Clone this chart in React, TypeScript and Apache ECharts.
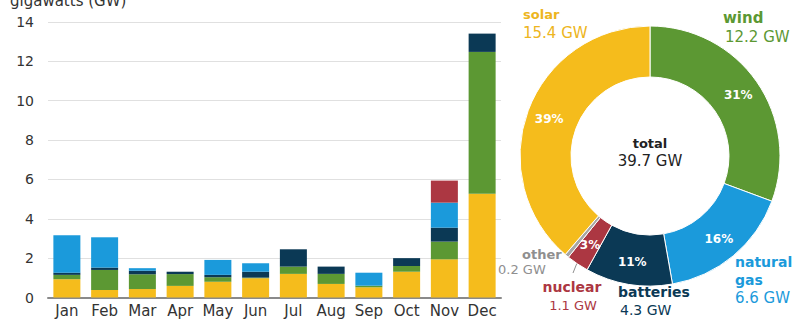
import React, { useEffect, useRef } from "react";
import * as echarts from "echarts";

const months = ["Jan", "Feb", "Mar", "Apr", "May", "Jun", "Jul", "Aug", "Sep", "Oct", "Nov", "Dec"];
const solar = [0.93, 0.38, 0.43, 0.59, 0.8, 0.98, 1.2, 0.69, 0.52, 1.31, 1.94, 5.27];
const wind = [0.22, 1.02, 0.75, 0.6, 0.23, 0.03, 0.37, 0.51, 0.08, 0.29, 0.9, 7.21];
const batteries = [0.11, 0.12, 0.18, 0.12, 0.12, 0.3, 0.88, 0.37, 0, 0.4, 0.71, 0.93];
const naturalGas = [1.9, 1.54, 0.13, 0, 0.76, 0.43, 0, 0, 0.66, 0, 1.27, 0];
const nuclear = [0, 0, 0, 0, 0, 0, 0, 0, 0, 0, 1.12, 0];

const capacityNames = ["wind", "natural gas", "batteries", "nuclear", "other", "solar"];
const capacityValues = [12.2, 6.6, 4.3, 1.1, 0.2, 15.4];
const capacityPercents = ["31%", "16%", "11%", "3%", "", "39%"];
const totalLabel = "39.7 GW";
const yAxisTitle = "gigawatts (GW)";

const C = {
  solar: "#F5BC1C",
  wind: "#5C9833",
  gas: "#1B9ADB",
  batteries: "#0B3955",
  nuclear: "#AC3742",
  other: "#A6A6A6",
};
const sliceColors = [C.wind, C.gas, C.batteries, C.nuclear, C.other, C.solar];
const FONT = "DejaVu Sans";

function txt(text: string, x: number, y: number, fill: string, size: number, bold = false, align = "left") {
  return {
    type: "text",
    x,
    y,
    silent: true,
    style: {
      text,
      fill,
      fontSize: size,
      fontWeight: bold ? "bold" : "normal",
      fontFamily: FONT,
      align,
      verticalAlign: "middle",
      textAlign: align,
      textVerticalAlign: "middle",
    },
  };
}

export default function App() {
  const ref = useRef<HTMLDivElement>(null);
  useEffect(() => {
    if (!ref.current) return;
    const chart = echarts.init(ref.current, null, { renderer: "svg" });
    const bar = (name: string, data: number[], color: string) => ({
      type: "bar",
      name,
      stack: "total",
      data,
      barWidth: 27,
      itemStyle: { color },
      xAxisIndex: 0,
      yAxisIndex: 0,
    });
    chart.setOption({
      animation: false,
      textStyle: { fontFamily: FONT },
      grid: { left: 48, right: 295, top: 22, bottom: 27.5, containLabel: false },
      xAxis: {
        type: "category",
        data: months,
        axisLine: { lineStyle: { color: "#8a8a8a", width: 2 } },
        axisTick: { show: false },
        axisLabel: { color: "#333", fontSize: 15, fontFamily: FONT, margin: 6, interval: 0 },
      },
      yAxis: {
        type: "value",
        min: 0,
        max: 14,
        interval: 2,
        axisLine: { show: false },
        axisTick: { show: false },
        axisLabel: { color: "#333", fontSize: 14, fontFamily: FONT, margin: 14 },
        splitLine: { lineStyle: { color: "#e0e0e0", width: 1 } },
      },
      series: [
        bar("solar", solar, C.solar),
        bar("wind", wind, C.wind),
        bar("batteries", batteries, C.batteries),
        bar("natural gas", naturalGas, C.gas),
        bar("nuclear", nuclear, C.nuclear),
        {
          type: "pie",
          center: [650, 156],
          radius: [79, 130],
          startAngle: 90,
          clockwise: true,
          avoidLabelOverlap: false,
          itemStyle: { borderColor: "#fff", borderWidth: 1 },
          label: {
            show: true,
            position: "inside",
            color: "#fff",
            fontSize: 12,
            fontWeight: "bold",
            fontFamily: FONT,
            formatter: (p: any) => capacityPercents[p.dataIndex],
          },
          labelLine: { show: false },
          emphasis: { disabled: true },
          data: capacityNames.map((n, i) => ({
            name: n,
            value: capacityValues[i],
            itemStyle: { color: sliceColors[i] },
          })),
        },
      ],
      graphic: [
        txt(yAxisTitle, 10, 1, "#333", 15),
        txt("total", 650, 143, "#222", 13, true, "center"),
        txt(totalLabel, 650, 161, "#222", 15, false, "center"),
        txt("solar", 523, 14, "#EDB520", 13, true),
        txt(capacityValues[5].toFixed(1) + " GW", 523, 33, "#EDB520", 15),
        txt("wind", 723, 18, C.wind, 15, true),
        txt(capacityValues[0].toFixed(1) + " GW", 725, 37, C.wind, 15),
        txt("natural", 735, 262, C.gas, 14, true),
        txt("gas", 735, 280, C.gas, 14, true),
        txt(capacityValues[1].toFixed(1) + " GW", 735, 298, C.gas, 15),
        txt("batteries", 618, 292, C.batteries, 14, true),
        txt(capacityValues[2].toFixed(1) + " GW", 620, 310, C.batteries, 14),
        txt("nuclear", 572, 287, C.nuclear, 14, true, "center"),
        txt(capacityValues[3].toFixed(1) + " GW", 573, 305, C.nuclear, 13, false, "center"),
        txt("other", 522, 254, "#8f8f8f", 13, true),
        txt(capacityValues[4].toFixed(1) + " GW", 498, 269, "#8f8f8f", 13),
        {
          type: "line",
          silent: true,
          shape: { x1: 573, y1: 273, x2: 577, y2: 263 },
          style: { stroke: "#8f8f8f", lineWidth: 1 },
        },
      ],
    });
    return () => chart.dispose();
  }, []);
  return (
    <div
      ref={ref}
      style={{ position: "fixed", left: 0, top: 0, width: 796, height: 325, background: "#fff" }}
    />
  );
}
